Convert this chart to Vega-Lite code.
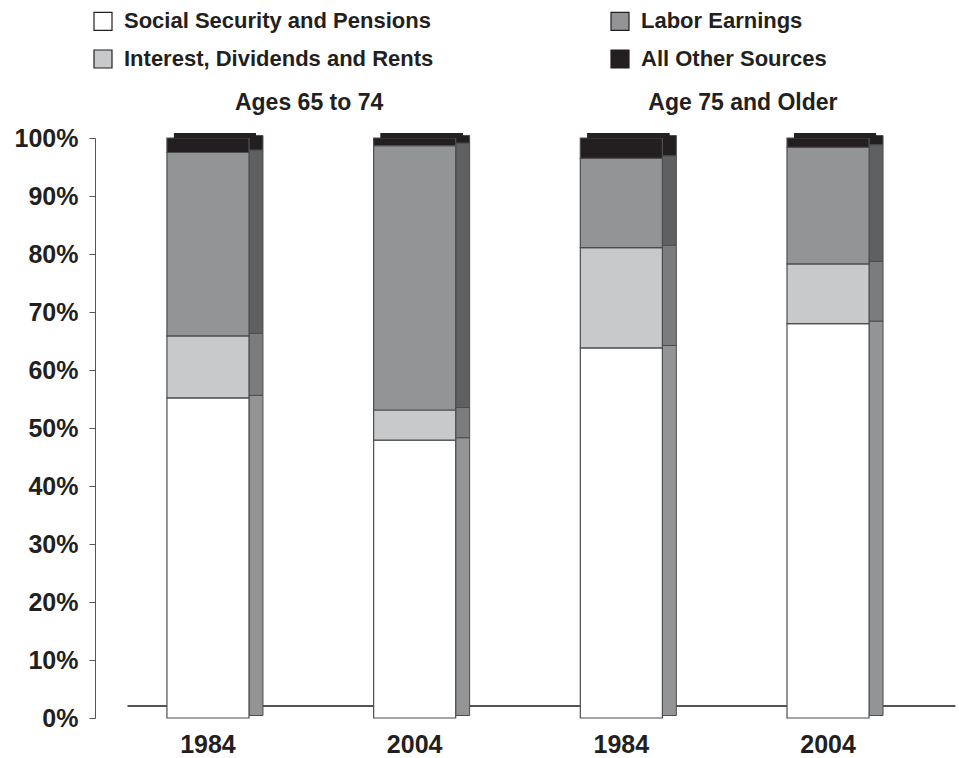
{
  "$schema": "https://vega.github.io/schema/vega-lite/v6.json",
  "autosize": {"type": "none"},
  "padding": {"left": 95, "top": 138, "right": 18, "bottom": 40},
  "width": 846,
  "height": 580,
  "config": {
    "view": {"stroke": null},
    "font": "Liberation Sans",
    "axis": {"labelFont": "Liberation Sans", "labelFontWeight": "bold", "labelColor": "#231f20", "labelFontSize": 25},
    "legend": {"labelFont": "Liberation Sans", "labelFontWeight": "bold", "labelColor": "#231f20", "labelFontSize": 22}
  },
  "data": {
    "values": [
      {"bar": "A 1984", "source": "Social Security and Pensions", "pct": 55.2, "rank": 1},
      {"bar": "A 1984", "source": "Interest, Dividends and Rents", "pct": 10.7, "rank": 2},
      {"bar": "A 1984", "source": "Labor Earnings", "pct": 31.6, "rank": 3},
      {"bar": "A 1984", "source": "All Other Sources", "pct": 2.5, "rank": 4},
      {"bar": "A 2004", "source": "Social Security and Pensions", "pct": 47.9, "rank": 1},
      {"bar": "A 2004", "source": "Interest, Dividends and Rents", "pct": 5.2, "rank": 2},
      {"bar": "A 2004", "source": "Labor Earnings", "pct": 45.6, "rank": 3},
      {"bar": "A 2004", "source": "All Other Sources", "pct": 1.3, "rank": 4},
      {"bar": "B 1984", "source": "Social Security and Pensions", "pct": 63.8, "rank": 1},
      {"bar": "B 1984", "source": "Interest, Dividends and Rents", "pct": 17.3, "rank": 2},
      {"bar": "B 1984", "source": "Labor Earnings", "pct": 15.4, "rank": 3},
      {"bar": "B 1984", "source": "All Other Sources", "pct": 3.5, "rank": 4},
      {"bar": "B 2004", "source": "Social Security and Pensions", "pct": 68.0, "rank": 1},
      {"bar": "B 2004", "source": "Interest, Dividends and Rents", "pct": 10.3, "rank": 2},
      {"bar": "B 2004", "source": "Labor Earnings", "pct": 20.1, "rank": 3},
      {"bar": "B 2004", "source": "All Other Sources", "pct": 1.6, "rank": 4}
    ]
  },
  "encoding": {
    "x": {
      "field": "bar", "type": "nominal", "sort": ["A 1984", "A 2004", "B 1984", "B 2004"],
      "scale": {"paddingInner": 0.603, "paddingOuter": 0.348},
      "axis": {"title": null, "domain": false, "ticks": false, "labelAngle": 0, "labelPadding": 14, "labelExpr": "substring(datum.label, 2)"}
    }
  },
  "layer": [
    {
      "mark": {"type": "rule", "stroke": "#555", "strokeWidth": 1, "yOffset": -12, "xOffset": -39, "x2Offset": 86},
      "encoding": {
        "x": {"datum": "A 1984", "type": "nominal", "bandPosition": 0},
        "x2": {"datum": "B 2004", "bandPosition": 1},
        "y": {"datum": 0, "type": "quantitative"}
      }
    },
    {
      "mark": {"type": "bar", "width": 14, "xOffset": 48, "yOffset": -2.5, "y2Offset": -2.5, "stroke": "#4d4d4f", "strokeWidth": 1},
      "encoding": {
        "y": {"field": "pct", "type": "quantitative", "stack": "zero"},
        "order": {"field": "rank", "type": "quantitative"},
        "color": {
          "field": "source", "type": "nominal", "legend": null,
          "scale": {"domain": ["Social Security and Pensions", "Labor Earnings", "Interest, Dividends and Rents", "All Other Sources"], "range": ["#939496", "#5f6062", "#7b7c7e", "#231f20"]}
        }
      }
    },
    {
      "layer": [
        {
          "mark": {"type": "bar", "stroke": "#4d4d4f", "strokeWidth": 1.2},
          "encoding": {
            "y": {
              "field": "pct", "type": "quantitative", "stack": "zero",
              "scale": {"domain": [0, 100], "nice": false},
              "axis": {"title": null, "values": [0, 10, 20, 30, 40, 50, 60, 70, 80, 90, 100], "labelExpr": "datum.value + '%'", "grid": false, "domainColor": "#555", "tickColor": "#555", "tickSize": 6, "labelPadding": 11}
            },
            "order": {"field": "rank", "type": "quantitative"},
            "color": {
              "field": "source", "type": "nominal",
              "scale": {"domain": ["Social Security and Pensions", "Labor Earnings", "Interest, Dividends and Rents", "All Other Sources"], "range": ["#ffffff", "#939496", "#c8c9cb", "#231f20"]},
              "legend": {"title": null, "orient": "none", "legendX": -3, "legendY": -128, "direction": "horizontal", "columns": 2, "columnPadding": 174, "rowPadding": 14, "symbolType": "square", "symbolSize": 324, "symbolStrokeColor": "#231f20", "symbolStrokeWidth": 1.2, "labelOffset": 10, "labelLimit": 500}
            }
          }
        }
      ]
    },
    {
      "mark": {"type": "tick", "color": "#231f20", "thickness": 5, "size": 82, "xOffset": 7, "yOffset": -2.5},
      "encoding": {"y": {"datum": 100, "type": "quantitative"}}
    },
    {
      "data": {"values": [{"bar": "A 1984", "title": "Ages 65 to 74"}, {"bar": "B 1984", "title": "Age 75 and Older"}]},
      "mark": {"type": "text", "align": "left", "baseline": "middle", "xOffset": 27, "fontSize": 23, "fontWeight": "bold", "color": "#231f20", "font": "Liberation Sans"},
      "encoding": {"y": {"datum": 106, "type": "quantitative"}, "text": {"field": "title"}}
    }
  ],
  "resolve": {"scale": {"color": "independent"}, "legend": {"color": "independent"}}
}
